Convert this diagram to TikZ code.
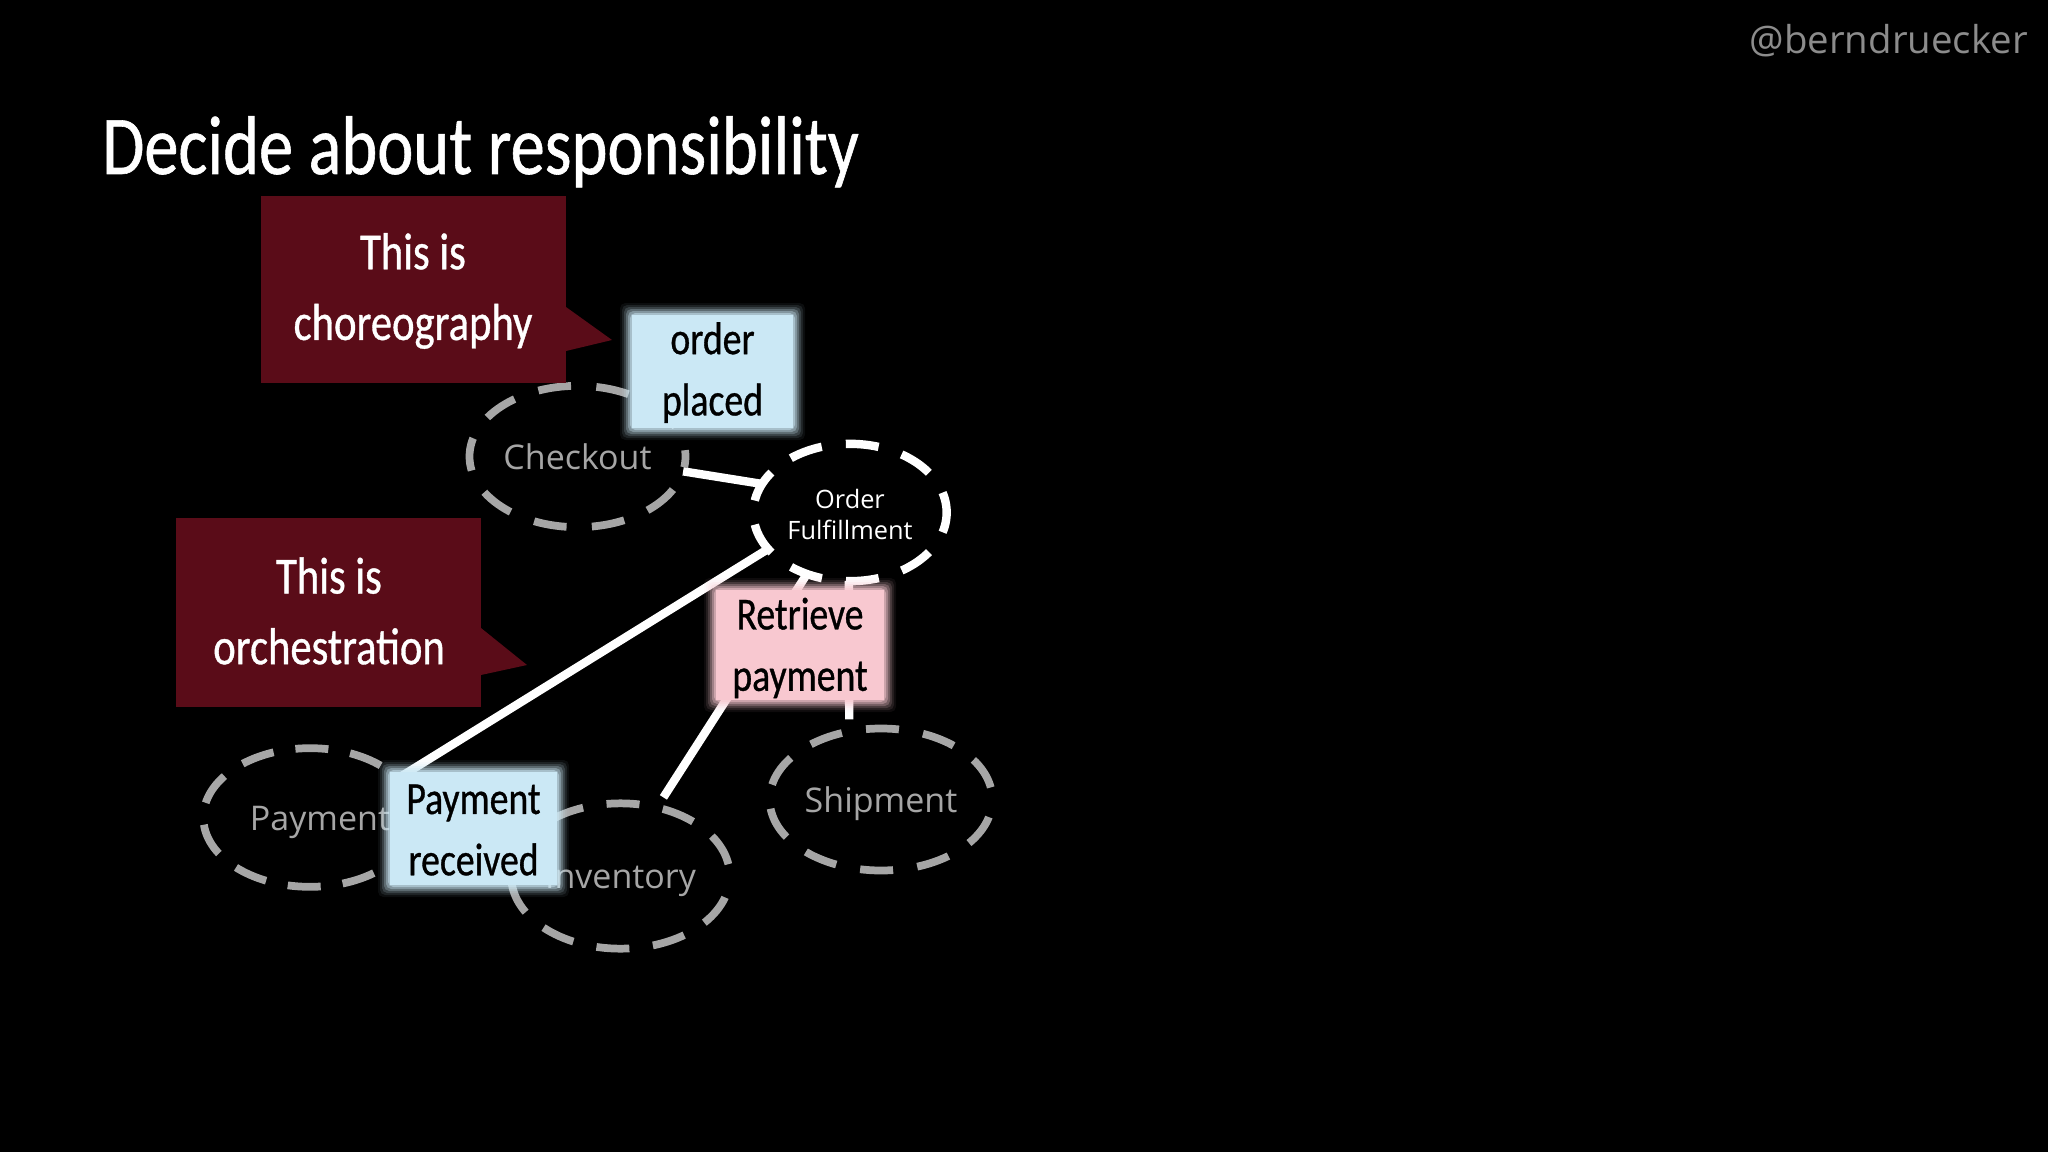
\documentclass[tikz,border=0pt]{standalone}
\usepackage{fontspec}
\usetikzlibrary{shapes.geometric}
\setmainfont{Open Sans}
\newfontfamily\hand[FakeStretch=0.82,FakeBold=0.7]{Carlito}
\definecolor{wine}{HTML}{5A0C18}
\definecolor{dashgrey}{HTML}{A6A6A6}
\definecolor{bluebox}{HTML}{CBE8F5}
\definecolor{pinkbox}{HTML}{F8C8D0}
\tikzset{
  x=0.75pt,y=-0.75pt,
  svc/.style={ellipse,draw=dashgrey,line width=5.8pt,text=dashgrey,inner sep=0pt,outer sep=0pt,
    font=\fontsize{25.5}{31}\selectfont,align=center},
  svcmain/.style={svc,draw=white,text=white,line width=6.3pt,font=\fontsize{19}{23.2}\selectfont},
  conn/.style={draw=white,line width=6.3pt},
  calltext/.style={text=white,align=center,inner sep=0pt,font=\hand\fontsize{39}{53}\selectfont},
  boxtext/.style={text=black,align=center,inner sep=0pt,font=\hand\fontsize{34.5}{46}\selectfont},
}
\newcommand{\svctext}[2]{\raisebox{-#1pt}[0pt][0pt]{\makebox[0pt]{#2}}}
\newcommand{\glowbox}[8]{% name, x1,y1,x2,y2, colour, text, text shift
  \foreach \d/\o in {7/.06,5/.1,3/.16,1/.25,-1/.35,-3/.5}{
    \fill[#6,opacity=\o,rounded corners=4pt] (#2-\d,#3-\d) rectangle (#4+\d,#5+\d);}
  \node[fill=#6,inner sep=0pt,minimum width=0.75pt*(#4-#2)-7.5pt,minimum height=0.75pt*(#5-#3)-7.5pt] (#1) at ({(#2+#4)/2},{(#3+#5)/2}) {};
  \node[boxtext] (#1t) at ({(#2+#4)/2},{(#3+#5)/2+#8}) {#7};
}
\begin{document}
\begin{tikzpicture}
\fill[black,use as bounding box] (0,0) rectangle (2048,1152);

\node[text=white,inner sep=0pt,anchor=base west,font=\hand\fontsize{62.6}{70}\selectfont] (title) at (102,174) {Decide about responsibility};
\node[text=white!55!black,inner sep=0pt,anchor=base east,font=\fontsize{28.8}{34}\selectfont] (handle) at (2028,54) {@berndruecker};

\node[svc,minimum width=162pt,minimum height=106pt,dash pattern=on 24.75pt off 19pt,dash phase=20pt] (chk) at (577.5,456.5) {\svctext{9.4}{Checkout}};
\node[svcmain,minimum width=145pt,minimum height=103pt,dash pattern=on 24.75pt off 18.2pt,dash phase=9.4pt] (of) at (850,512.5) {\rule{0pt}{18pt}Order\\Fulfillment};
\node[svc,minimum width=160pt,minimum height=104pt,dash pattern=on 24.75pt off 16.6pt,dash phase=33pt] (pay) at (310,817.5) {\svctext{9.8}{\hspace*{15pt}Payment}};
\node[svc,minimum width=164pt,minimum height=109pt,dash pattern=on 24.75pt off 17.8pt,dash phase=33.6pt] (inv) at (620.5,876) {\svctext{9}{Inventory}};
\node[svc,minimum width=167pt,minimum height=106.5pt,dash pattern=on 24.75pt off 18.3pt,dash phase=33.9pt] (ship) at (881,799.5) {\svctext{9.4}{Shipment}};

\draw[conn] (chk.-8.5) -- (of.162);
\draw[conn] (pay.24) -- (of.204.8);
\draw[conn,shorten <=9pt] (inv.62.9) -- (of.235.7);
\draw[conn,shorten <=9pt] (ship.115) -- (of.-91);

\fill[wine] (261,196) rectangle (566,383);
\fill[wine] (566,307) -- (612,340) -- (566,351) -- cycle;
\node[calltext] (c1) at (413,291) {This is\\choreography};
\fill[wine] (176,518) rectangle (481,707);
\fill[wine] (481,628) -- (527,665) -- (481,675) -- cycle;
\node[calltext] (c2) at (329,611) {This is\\orchestration};

\glowbox{bp}{627}{310}{798}{433}{bluebox}{order\\placed}{1}
\glowbox{br}{385}{767}{562}{890}{bluebox}{Payment\\received}{1.5}
\glowbox{pr}{711}{585}{889}{705}{pinkbox}{Retrieve\\payment}{3}
\end{tikzpicture}
\end{document}
